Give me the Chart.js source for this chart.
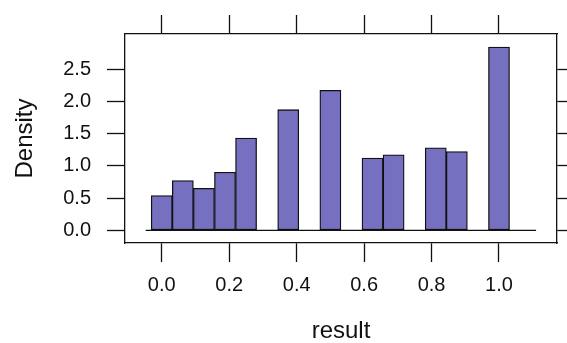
<!DOCTYPE html>
<html>
<head>
<meta charset="utf-8">
<script src="https://cdn.jsdelivr.net/npm/chart.js@4"></script>
<style>
  html, body { margin: 0; padding: 0; background: #fff; }
  #wrap { width: 567px; height: 343px; }
</style>
</head>
<body>
<div id="wrap"><canvas id="histChart"></canvas></div>
<script>
// values
const binCenters = [0, 0.0625, 0.125, 0.1875, 0.25, 0.375, 0.5, 0.625, 0.6875, 0.8125, 0.875, 1.0];
const density = [0.54, 0.77, 0.65, 0.90, 1.43, 1.87, 2.17, 1.12, 1.17, 1.28, 1.22, 2.84];
const xTicks = [0, 0.2, 0.4, 0.6, 0.8, 1.0];
const yTicks = [0, 0.5, 1.0, 1.5, 2.0, 2.5];
const baseLine = [-0.0475, 1.11];

const ink = '#111';
const fontFam = '"Liberation Sans", Arial, sans-serif';

function fixTicks(list) {
    return scale => { scale.ticks = list.map(v => ({ value: v })); };
}

function axisGrid(len) {
    return {
        offset: false,
        drawOnChartArea: false,
        drawTicks: true,
        tickLength: len,
        tickWidth: 1.3,
        tickColor: ink,
        color: ink
    };
}

const border = { display: true, color: ink, width: 1.3 };

const ctx = document.getElementById('histChart').getContext('2d');

const histChart = new Chart(ctx, {
    type: 'bar',
    data: {
        datasets: [{
            type: 'line',
            data: baseLine.map(x => ({ x: x, y: 0 })),
            borderColor: ink,
            borderWidth: 1.3,
            pointRadius: 0,
            order: 0
        }, {
            data: binCenters.map((x, i) => ({ x: x, y: density[i] })),
            backgroundColor: 'rgb(118, 112, 192)',
            borderColor: ink,
            borderWidth: 1.3,
            borderSkipped: false,
            barPercentage: 1,
            categoryPercentage: 1,
            order: 1
        }]
    },
    options: {
        responsive: true,
        maintainAspectRatio: false,
        animation: false,
        layout: { padding: 0 },
        plugins: {
            legend: { display: false },
            tooltip: { enabled: false }
        },
        scales: {
            x: {
                type: 'linear',
                position: 'bottom',
                offset: false,
                min: -0.109,
                max: 1.172,
                afterBuildTicks: fixTicks(xTicks),
                afterFit: s => { s.height = 100; },
                grid: axisGrid(19),
                border: border,
                ticks: {
                    padding: 11,
                    color: ink,
                    font: { family: fontFam, size: 20 },
                    callback: v => v.toFixed(1),
                    maxRotation: 0,
                    autoSkip: false
                },
                title: {
                    display: true,
                    text: 'result',
                    color: ink,
                    font: { family: fontFam, size: 24, lineHeight: 1 },
                    padding: { top: 0, bottom: 0 }
                }
            },
            x2: {
                type: 'linear',
                position: 'top',
                offset: false,
                min: -0.109,
                max: 1.172,
                afterBuildTicks: fixTicks(xTicks),
                afterFit: s => { s.height = 34; },
                grid: axisGrid(19),
                border: border,
                ticks: { display: false }
            },
            y: {
                type: 'linear',
                position: 'left',
                min: -0.197,
                max: 3.043,
                afterBuildTicks: fixTicks(yTicks),
                afterFit: s => { s.width = 125; },
                grid: axisGrid(18),
                border: border,
                ticks: {
                    padding: 16,
                    color: ink,
                    font: { family: fontFam, size: 20 },
                    callback: v => v.toFixed(1)
                },
                title: {
                    display: true,
                    text: 'Density',
                    color: ink,
                    font: { family: fontFam, size: 24, lineHeight: 1 },
                    padding: { top: 13, bottom: 0 }
                }
            },
            y2: {
                type: 'linear',
                position: 'right',
                min: -0.197,
                max: 3.043,
                afterBuildTicks: fixTicks(yTicks),
                afterFit: s => { s.width = 10; },
                grid: axisGrid(18),
                border: border,
                ticks: { display: false }
            }
        }
    }
});
</script>
</body>
</html>
